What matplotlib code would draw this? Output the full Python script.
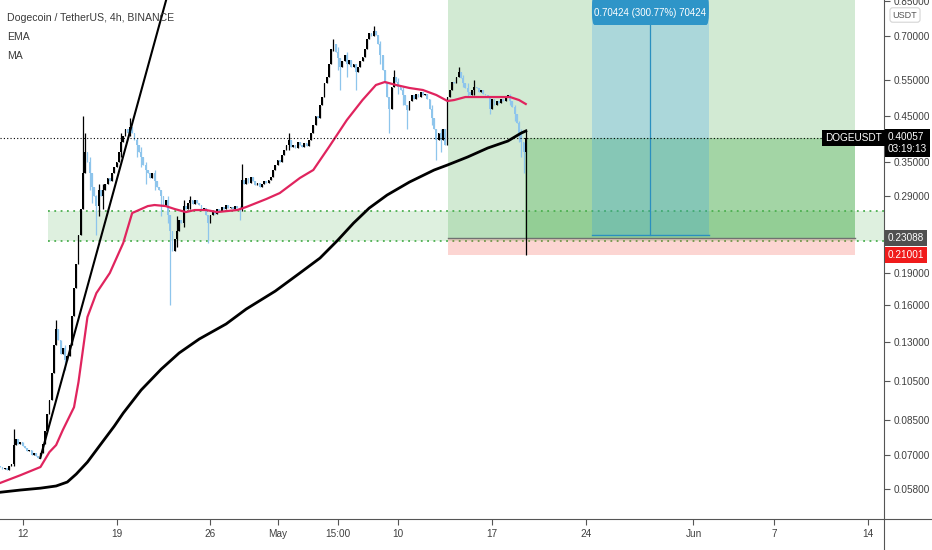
import numpy as np
import pandas as pd
import matplotlib
matplotlib.use('Agg')
import matplotlib.pyplot as plt
import matplotlib.transforms as mtransforms
from matplotlib.patches import Rectangle, FancyBboxPatch
from matplotlib.lines import Line2D

plt.rcParams['font.family'] = ['Liberation Sans', 'DejaVu Sans']

# --- данные: 4h свечи DOGE/USDT, первая свеча 2021-04-10 08:00 ---
start_time = pd.Timestamp('2021-04-10 08:00')
first_open = 0.0660
closes = [
    # 10-13 апр
    0.0655, 0.0648, 0.0652, 0.0645, 0.0660, 0.0668, 0.0740, 0.0765, 0.0745, 0.0752,
    0.0735, 0.0728, 0.0715, 0.0722, 0.0702, 0.0710, 0.0695, 0.0690, 0.0708,
    # рост
    0.0745, 0.0800, 0.0880, 0.0950, 0.1100, 0.1280, 0.1400, 0.1320, 0.1220, 0.1260,
    0.1180, 0.1210, 0.1280, 0.1500, 0.1750, 0.2000, 0.2350, 0.2700, 0.3300, 0.3700,
    # 16-20 апр
    0.3500, 0.3300, 0.3050, 0.2900, 0.2750, 0.3000, 0.2900, 0.3000, 0.3100, 0.3200,
    0.3150, 0.3300, 0.3400, 0.3500, 0.3700, 0.3900, 0.4050, 0.4200, 0.4100, 0.4250,
    0.4100, 0.3950,
    # спад
    0.3850, 0.3700, 0.3600, 0.3450, 0.3350, 0.3300, 0.3200, 0.3300, 0.3150, 0.3050,
    0.3000, 0.2900, 0.2750, 0.2850, 0.2620, 0.2400, 0.2150, 0.2300, 0.2400, 0.2550,
    0.2500, 0.2750, 0.2700,
    # боковик
    0.2800, 0.2850, 0.2780, 0.2840, 0.2800, 0.2760, 0.2700, 0.2720, 0.2620, 0.2500,
    0.2620, 0.2680, 0.2640, 0.2700, 0.2680, 0.2730, 0.2700, 0.2760, 0.2720, 0.2740,
    0.2700, 0.2750, 0.2720, 0.2700, 0.3180,
    # конец апреля - май
    0.3100, 0.3200, 0.3120, 0.3220, 0.3150, 0.3080, 0.3120, 0.3050, 0.3100, 0.3150,
    0.3120, 0.3180, 0.3220, 0.3350, 0.3450, 0.3550, 0.3500, 0.3650, 0.3750, 0.3850,
    0.3950, 0.3800, 0.3850, 0.3780, 0.3900, 0.3850, 0.3800, 0.3880, 0.3830, 0.3950,
    0.4100, 0.4300, 0.4500, 0.4450, 0.4800, 0.5000, 0.5400, 0.5600, 0.6000, 0.6500,
    0.6700,
    # вершины
    0.6400, 0.6200, 0.5900, 0.6100, 0.6300, 0.6000, 0.6150, 0.5900, 0.6000, 0.5750,
    0.5900, 0.6100, 0.6250, 0.6500, 0.6900, 0.7100, 0.7000, 0.7200, 0.7050, 0.6700,
    0.6300, 0.5800, 0.5400, 0.5000, 0.4700, 0.5300, 0.5600, 0.5450, 0.5300, 0.5200,
    0.5050, 0.4800, 0.4650, 0.4900, 0.5050, 0.4950, 0.5100, 0.5000, 0.5150, 0.5050,
    0.5100, 0.4950, 0.4700, 0.4450, 0.4200, 0.3950, 0.4100, 0.3950, 0.4200, 0.3850,
    # 13-19 мая
    0.5000, 0.5200, 0.5450, 0.5400, 0.5600, 0.5750, 0.5550, 0.5400, 0.5250, 0.5150,
    0.5050, 0.5200, 0.5300, 0.5250, 0.5150, 0.5200, 0.5100, 0.5050, 0.5000, 0.4700,
    0.4950, 0.4800, 0.4900, 0.4850, 0.4950, 0.4900, 0.5000, 0.5050, 0.4900, 0.4750,
    0.4550, 0.4350, 0.4100, 0.3900, 0.3700, 0.40057,
]
# заметные тени: индекс свечи -> (high, low)
wicks = {
    6: (0.081, 0.066), 25: (0.147, 0.128), 29: (0.128, 0.112), 37: (0.45, 0.27),
    38: (0.41, 0.33), 40: (0.36, 0.30), 41: (0.33, 0.28), 43: (0.292, 0.235),
    44: (0.31, 0.26), 46: (0.31, 0.27), 54: (0.41, 0.36), 58: (0.445, 0.405),
    61: (0.40, 0.36), 63: (0.38, 0.34), 65: (0.35, 0.31), 69: (0.335, 0.30),
    72: (0.30, 0.26), 75: (0.29, 0.25), 76: (0.262, 0.16), 79: (0.26, 0.22),
    82: (0.285, 0.245), 85: (0.29, 0.27), 93: (0.262, 0.225), 107: (0.275, 0.255),
    108: (0.347, 0.268), 129: (0.41, 0.375), 149: (0.69, 0.645), 151: (0.66, 0.58),
    152: (0.62, 0.52), 155: (0.64, 0.56), 159: (0.60, 0.52), 167: (0.74, 0.70),
    170: (0.68, 0.60), 174: (0.50, 0.41), 176: (0.58, 0.53), 178: (0.555, 0.51),
    180: (0.53, 0.48), 182: (0.48, 0.42), 193: (0.48, 0.43), 195: (0.42, 0.355),
    197: (0.42, 0.37), 205: (0.59, 0.56), 207: (0.565, 0.53), 209: (0.54, 0.50),
    212: (0.55, 0.505), 219: (0.50, 0.455), 228: (0.51, 0.48), 230: (0.48, 0.44),
    232: (0.44, 0.39), 233: (0.42, 0.36), 234: (0.39, 0.33), 235: (0.42, 0.21),
}

ema_idx = [0, 9, 18, 22, 25, 28, 33, 35, 39, 43, 49, 55, 59, 66, 69, 74, 78, 83, 87, 92,
           97, 106, 110, 119, 125, 134, 140, 147, 155, 162, 168, 172, 177, 183, 189, 195,
           200, 203, 208, 215, 223, 228, 232, 235]
ema_val = [0.0601, 0.0627, 0.0656, 0.0712, 0.0740, 0.0804, 0.0911, 0.1046, 0.1495, 0.1705,
           0.1904, 0.2245, 0.2647, 0.2750, 0.2766, 0.2750, 0.2706, 0.2661, 0.2691, 0.2691,
           0.2661, 0.2691, 0.2736, 0.2859, 0.2954, 0.3209, 0.3353, 0.3804, 0.4412, 0.4924,
           0.5348, 0.5437, 0.5348, 0.5261, 0.5203, 0.5062, 0.4898, 0.4924, 0.5006, 0.5006,
           0.5006, 0.5006, 0.4924, 0.4818]

ma_idx = [0, 9, 18, 25, 30, 34, 39, 45, 51, 55, 63, 72, 80, 89, 101, 110, 123, 134, 143,
          151, 158, 165, 173, 183, 194, 200, 209, 218, 227, 233, 235]
ma_val = [0.0571, 0.0578, 0.0584, 0.0591, 0.0604, 0.0631, 0.0674, 0.0744, 0.0821, 0.0882,
          0.1001, 0.1123, 0.1227, 0.1325, 0.1439, 0.1562, 0.1724, 0.1904, 0.2067, 0.2282,
          0.2505, 0.2720, 0.2922, 0.3138, 0.3352, 0.3446, 0.3601, 0.3783, 0.3931, 0.4108,
          0.4153]

trend_idx = [17.9, 75.4]
trend_price = [0.0689, 0.90]

zone_top, zone_bottom, zone_start = 0.268, 0.2273, 21.4
last_price = 0.40057
entry, stop, target = 0.23088, 0.21001, 0.935
pos_start, pos_end, pos_live = 200.2, 382.2, 234.6
measure_left, measure_right, measure_low = 264.6, 316.9, 0.2341

yticks = [0.058, 0.07, 0.085, 0.105, 0.13, 0.16, 0.19, 0.29, 0.35, 0.45, 0.55, 0.70, 0.85]
tick_dates = ['2021-04-12', '2021-04-19', '2021-04-26', '2021-05-01', '2021-05-05 12:00',
              '2021-05-10', '2021-05-17', '2021-05-24', '2021-06-01', '2021-06-07', '2021-06-14']
tick_labels = ['12', '19', '26', 'May', '15:00', '10', '17', '24', 'Jun', '7', '14']

# --- построение ---
fig = plt.figure(figsize=(9.32, 5.5), dpi=100)
ax = fig.add_axes([0, 31 / 550, 884 / 932, 519 / 550])
ax.set_yscale('log')
ax.set_xlim(-0.1, 395.2)
ax.set_ylim(0.0493, 0.853)

c = np.array(closes)
o = np.concatenate([[first_open], c[:-1]])
hi = np.maximum(o, c)
lo = np.minimum(o, c)
for i, (h, l) in wicks.items():
    hi[i] = max(hi[i], h)
    lo[i] = min(lo[i], l)
x = np.arange(len(c))
up = c >= o
colors = np.where(up, '#000000', '#8ec5ec')

# зона поддержки
ax.add_patch(Rectangle((zone_start, zone_bottom), 400, zone_top - zone_bottom,
                       fc='#4caf50', alpha=0.18, lw=0, zorder=0.5))
for lvl in (zone_top, zone_bottom):
    ax.plot([zone_start, 400], [lvl, lvl], color='#4caf50', lw=1.3,
            ls=(0, (1, 2.5)), zorder=0.6)

# позиция long
ax.add_patch(Rectangle((pos_start, entry), pos_end - pos_start, target - entry,
                       fc='#4caf50', alpha=0.25, lw=0, zorder=0.7))
ax.add_patch(Rectangle((pos_live, entry), pos_end - pos_live, last_price - entry,
                       fc='#4caf50', alpha=0.35, lw=0, zorder=0.8))
ax.add_patch(Rectangle((pos_start, stop), pos_end - pos_start, entry - stop,
                       fc='#f44336', alpha=0.22, lw=0, zorder=0.7))
ax.plot([pos_start, pos_end], [entry, entry], color='#707070', lw=1, zorder=0.9)

# измерение
ax.add_patch(Rectangle((measure_left, measure_low), measure_right - measure_left,
                       target - measure_low, fc='#2196f3', alpha=0.22, lw=0, zorder=0.9))
mid = (measure_left + measure_right) / 2
ax.plot([mid, mid], [measure_low, target], color='#2a8fbf', lw=0.9, zorder=1)
ax.plot([measure_left, measure_right], [measure_low, measure_low], color='#2a8fbf', lw=1, zorder=1)
trans = mtransforms.blended_transform_factory(ax.transData, ax.transAxes)
ax.add_patch(FancyBboxPatch((measure_left, 1 - 25 / 519), measure_right - measure_left, 30 / 519,
                            boxstyle='round,pad=0,rounding_size=1.2', mutation_aspect=0.02,
                            transform=trans, fc='#2e95c8', lw=0, zorder=5, clip_on=False))
ax.text(mid, 1 - 13 / 519, '0.70424 (300.77%) 70424', transform=trans, ha='center',
        va='center', color='white', fontsize=7, zorder=6)

# свечи
ax.vlines(x, lo, hi, colors=colors, lw=0.9, zorder=2)
ax.bar(x, np.abs(c - o), bottom=np.minimum(o, c), width=0.8, color=colors, lw=0, zorder=2.1)

# EMA, MA, трендовая линия
ax.plot(ema_idx, ema_val, color='#e0245e', lw=1.6, zorder=3)
ax.plot(ma_idx, ma_val, color='#000000', lw=2.0, zorder=3)
ax.plot(trend_idx, trend_price, color='#000000', lw=1.5, zorder=3)

# текущая цена
ax.axhline(last_price, color='#000000', lw=0.8, ls=(0, (1, 2)), zorder=3)

# оси
for s in ('top', 'left'):
    ax.spines[s].set_visible(False)
ax.spines['right'].set_color('#555555')
ax.spines['bottom'].set_color('#555555')
fig.add_artist(Line2D([884 / 932, 884 / 932], [0, 31 / 550], color='#555555', lw=0.8))
fig.add_artist(Line2D([884 / 932, 1], [31 / 550, 31 / 550], color='#555555', lw=0.8))
ax.yaxis.tick_right()
ax.minorticks_off()
ax.set_yticks(yticks)
ax.set_yticklabels([f'{v:.5f}' for v in yticks])
tick_pos = [(pd.Timestamp(d) - start_time) / pd.Timedelta('4h') for d in tick_dates]
ax.set_xticks(tick_pos)
ax.set_xticklabels(tick_labels)
ax.tick_params(axis='both', colors='#555555', labelcolor='#3f3f3f', labelsize=7.2,
               length=4, width=0.8, pad=3)

# ценовые метки справа
lbl_trans = mtransforms.blended_transform_factory(ax.transAxes, ax.transData)
up_trans = mtransforms.offset_copy(lbl_trans, fig=fig, y=6, units='dots')
box = dict(boxstyle='square,pad=0.3', ec='none')
ax.text(1.004, last_price, '0.40057\n03:19:13', transform=up_trans, ha='left', va='top',
        color='white', fontsize=7.2, linespacing=1.25, clip_on=False, zorder=10,
        bbox=dict(box, fc='black'))
ax.text(0.998, last_price, 'DOGEUSDT', transform=lbl_trans, ha='right', va='center',
        color='white', fontsize=7.2, clip_on=False, zorder=10, bbox=dict(box, fc='black'))
ax.text(1.004, entry, '0.23088', transform=lbl_trans, ha='left', va='center',
        color='white', fontsize=7.2, clip_on=False, zorder=10, bbox=dict(box, fc='#505050'))
ax.text(1.004, stop, '0.21001', transform=lbl_trans, ha='left', va='center',
        color='white', fontsize=7.2, clip_on=False, zorder=10, bbox=dict(box, fc='#f01b1b'))

fig.text(905 / 932, 1 - 15 / 550, 'USDT', ha='center', va='center', color='#555555',
         fontsize=6.5, bbox=dict(boxstyle='round,pad=0.3', fc='white', ec='#d5d5d5', lw=0.8))

# легенда
fig.text(7 / 932, 1 - 18 / 550, 'Dogecoin / TetherUS, 4h, BINANCE', ha='left', va='center',
         color='#3a3a3a', fontsize=7.6)
fig.text(7 / 932, 1 - 37 / 550, 'EMA', ha='left', va='center', color='#3a3a3a', fontsize=7.6)
fig.text(7 / 932, 1 - 56 / 550, 'MA', ha='left', va='center', color='#3a3a3a', fontsize=7.6)

fig.savefig('out.png', dpi=100)
